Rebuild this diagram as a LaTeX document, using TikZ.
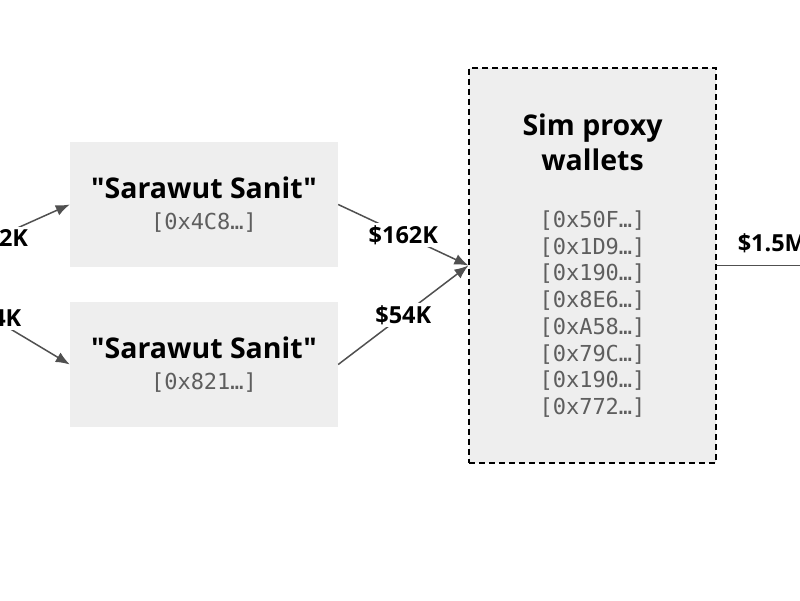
\documentclass[tikz,border=0pt]{standalone}
\usepackage{fontspec}
\newfontfamily\labelfont{Open Sans}
\setmonofont{DejaVu Sans Mono}
\usetikzlibrary{arrows.meta}
\definecolor{boxgray}{HTML}{EEEEEE}
\definecolor{addrgray}{HTML}{5E5E5E}
\definecolor{flow}{HTML}{505050}
\tikzset{
	wallet/.style={fill=boxgray, minimum width=268pt, minimum height=125pt, inner sep=0pt, align=center, font=\fontsize{22}{26.7}\selectfont},
	proxybox/.style={wallet, draw=black, line width=1.2pt, dash pattern=on 6pt off 4pt, minimum width=247pt, minimum height=395pt},
	amount/.style={fill=white, inner sep=2pt, font=\labelfont\bfseries\fontsize{23.5}{26}\selectfont},
	flowline/.style={draw=flow, line width=1.5pt, -{Latex[length=14pt,width=11pt]}}
}
\newcommand{\walletname}[1]{{\labelfont\bfseries\fontsize{28.5}{26.7}\selectfont #1}}
\newcommand{\addr}[1]{{\ttfamily\color{addrgray}[#1…]}}

\begin{document}
\begin{tikzpicture}[x=1pt,y=1pt]
		\useasboundingbox (0,0) rectangle (800,600);
		\clip (0,0) rectangle (800,600);
		
		%wallets
		\node[wallet] (sara1) at (204,395.5) {\walletname{"Sarawut Sanit"}\\[4pt]\addr{0x4C8}};
		\node[wallet] (sara2) at (204,235.5) {\walletname{"Sarawut Sanit"}\\[4pt]\addr{0x821}};
		\node[proxybox] (proxy) at (592.5,334.5) {\walletname{Sim proxy}\\[6pt]\walletname{wallets}\\[30pt]
			\addr{0x50F}\\\addr{0x1D9}\\\addr{0x190}\\\addr{0x8E6}\\
			\addr{0xA58}\\\addr{0x79C}\\\addr{0x190}\\\addr{0x772}};
		
		%ends outside the frame
		\coordinate (source) at (-83,327);
		\coordinate (target) at (828,334.5);
		
		%flows
		\draw[flowline] (source) -- node[amount] {\$162K} (sara1.west);
		\draw[flowline] (source) -- node[amount] {\$54K} (sara2.west);
		\draw[flowline] (sara1.east) -- node[amount] {\$162K} (proxy.west);
		\draw[flowline] (sara2.east) -- node[amount] {\$54K} (proxy.west);
		\draw[flowline] (proxy.east) -- node[amount, above=10pt, fill=none] {\$1.5M} (target);
\end{tikzpicture}
\end{document}
